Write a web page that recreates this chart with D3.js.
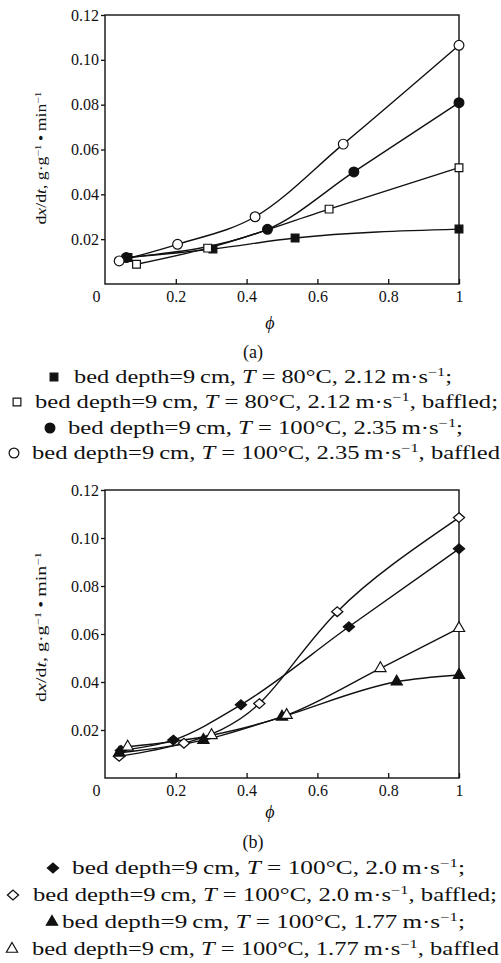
<!DOCTYPE html>
<html lang="en">
<head>
<meta charset="UTF-8">
<title>Drying rate vs phi</title>
<script src="https://d3js.org/d3.v7.min.js"></script>
<style>
  body { margin: 0; background: #fff; }
  svg { display: block; }
  text { font-family: "Liberation Serif", "DejaVu Serif", serif; fill: #111; }
</style>
</head>
<body>
<svg id="chart" width="501" height="963"></svg>
<script>
// ---- data ----
const xTicks = [0, 0.2, 0.4, 0.6, 0.8, 1];
const yTicks = [0.02, 0.04, 0.06, 0.08, 0.10, 0.12];

// panel (a)
const phiSqA = [0.065, 0.305, 0.537, 1.0];
const rateSqA = [0.0118, 0.0156, 0.0205, 0.0245];
const phiSqOpenA = [0.089, 0.29, 0.633, 1.0];
const rateSqOpenA = [0.0088, 0.016, 0.0334, 0.0519];
const phiDotA = [0.06, 0.459, 0.703, 1.0];
const rateDotA = [0.0118, 0.0244, 0.050, 0.0809];
const phiCircA = [0.04, 0.205, 0.424, 0.673, 1.0];
const rateCircA = [0.0103, 0.0177, 0.030, 0.0624, 0.1065];

// panel (b)
const phiDiaB = [0.045, 0.193, 0.384, 0.689, 1.0];
const rateDiaB = [0.0115, 0.0158, 0.0305, 0.063, 0.0955];
const phiDiaOpenB = [0.04, 0.223, 0.436, 0.656, 1.0];
const rateDiaOpenB = [0.009, 0.0145, 0.031, 0.0693, 0.1085];
const phiTriB = [0.04, 0.278, 0.50, 0.824, 1.0];
const rateTriB = [0.0105, 0.0158, 0.0255, 0.0401, 0.0429];
const phiTriOpenB = [0.064, 0.301, 0.513, 0.778, 1.0];
const rateTriOpenB = [0.013, 0.0178, 0.0262, 0.0457, 0.0624];

const legendA = [
  { sym: "square", fill: true,  speed: "2.12", temp: "80", baffled: false },
  { sym: "square", fill: false, speed: "2.12", temp: "80", baffled: true },
  { sym: "circle", fill: true,  speed: "2.35", temp: "100", baffled: false },
  { sym: "circle", fill: false, speed: "2.35", temp: "100", baffled: true }
];
const legendB = [
  { sym: "diamond",  fill: true,  speed: "2.0",  temp: "100", baffled: false },
  { sym: "diamond",  fill: false, speed: "2.0",  temp: "100", baffled: true },
  { sym: "triangle", fill: true,  speed: "1.77", temp: "100", baffled: false },
  { sym: "triangle", fill: false, speed: "1.77", temp: "100", baffled: true }
];

const zip = (xs, ys) => xs.map((x, i) => ({ x, y: ys[i] }));

const svg = d3.select("#chart");

// ---- symbol helper ----
function drawMarker(g, type, fill, cx, cy) {
  const sizes = { square: 60, circle: 75, diamond: 60, triangle: 55 };
  const types = { square: d3.symbolSquare, circle: d3.symbolCircle,
                  diamond: d3.symbolDiamond2, triangle: d3.symbolTriangle };
  g.append("path")
    .attr("d", d3.symbol().type(types[type]).size(sizes[type])())
    .attr("transform", `translate(${cx},${cy})` + (type === "diamond" ? " scale(1.15,1)" : ""))
    .attr("fill", fill ? "#111" : "#fff")
    .attr("stroke", "#111")
    .attr("stroke-width", 1.2);
}

// ---- one panel ----
function drawPanel(box, series, label, legend) {
  const x = d3.scaleLinear().domain([0, 1]).range([box.left, box.right]);
  const y = d3.scaleLinear().domain([0, 0.12]).range([box.bottom, box.top]);
  const g = svg.append("g");

  // frame
  g.append("rect")
    .attr("x", box.left).attr("y", box.top)
    .attr("width", box.right - box.left).attr("height", box.bottom - box.top)
    .attr("fill", "none").attr("stroke", "#111").attr("stroke-width", 1.4);

  // y axis
  const ya = g.append("g")
    .attr("transform", `translate(${box.left},0)`)
    .call(d3.axisLeft(y).tickValues(yTicks).tickSize(4).tickSizeOuter(0)
      .tickFormat(d3.format(".2f")));
  ya.select(".domain").remove();
  ya.selectAll("line").attr("stroke", "#111").attr("stroke-width", 1.3);
  ya.selectAll("text").attr("font-size", 16).attr("x", -6)
    .style("font-family", "'Liberation Serif', serif");

  // x axis, ticks pointing inwards
  const xa = g.append("g")
    .attr("transform", `translate(0,${box.bottom})`)
    .call(d3.axisBottom(x).tickValues(xTicks).tickSize(-5).tickSizeOuter(0)
      .tickFormat(d => d === 0 ? "0" : d === 1 ? "1" : d3.format(".1f")(d)));
  xa.select(".domain").remove();
  xa.selectAll("line").attr("stroke", "#111").attr("stroke-width", 1.3);
  xa.selectAll("text").attr("font-size", 16).attr("y", 7)
    .style("font-family", "'Liberation Serif', serif");
  xa.selectAll(".tick").filter(d => d === 0).select("text").attr("x", -9);
  xa.selectAll(".tick").filter(d => d === 0).select("line").remove();

  // y label
  const yl = g.append("text")
    .attr("transform", `translate(${box.ylabX},${box.ylabY}) rotate(-90)`)
    .attr("text-anchor", "middle")
    .attr("font-size", 14)
    .attr("textLength", box.ylabLen)
    .attr("lengthAdjust", "spacingAndGlyphs");
  yl.append("tspan").text("d");
  yl.append("tspan").attr("font-style", "italic").text("x");
  yl.append("tspan").text("/d");
  yl.append("tspan").attr("font-style", "italic").text("t");
  yl.append("tspan").text(", g\u00b7g");
  yl.append("tspan").attr("font-size", 9).attr("baseline-shift", "super").text("\u22121");
  yl.append("tspan").text("\u2009\u2022\u2009min");
  yl.append("tspan").attr("font-size", 9).attr("baseline-shift", "super").text("\u22121");

  // x label and panel tag
  g.append("text").attr("x", 270).attr("y", box.phiY)
    .attr("text-anchor", "middle").attr("font-size", 18).attr("font-style", "italic")
    .text("\u03d5");
  g.append("text").attr("x", 253).attr("y", box.tagY)
    .attr("text-anchor", "middle").attr("font-size", 18).text(label);

  // curves and markers
  series.forEach(s => {
    const line = d3.line().x(d => x(d.x)).y(d => y(d.y))
      .curve(s.natural ? d3.curveNatural : d3.curveMonotoneX);
    g.append("path").datum(s.pts)
      .attr("d", line).attr("fill", "none")
      .attr("stroke", "#111").attr("stroke-width", 1.4);
  });
  series.forEach(s => {
    s.pts.forEach(p => drawMarker(g, s.sym, s.fill, x(p.x), y(p.y)));
  });

  // legend
  legend.forEach((l, i) => {
    const pos = box.legend[i];
    drawMarker(g, l.sym, l.fill, pos.mx, pos.cy);
    const t = g.append("text")
      .attr("x", pos.tx).attr("y", pos.cy + 6)
      .attr("font-size", 18)
      .attr("textLength", pos.tw)
      .attr("lengthAdjust", "spacingAndGlyphs");
    t.append("tspan").text("bed depth=9\u2009cm, ");
    t.append("tspan").attr("font-style", "italic").text("T");
    t.append("tspan").text(` = ${l.temp}\u00b0C, ${l.speed}\u2009m\u00b7s`);
    t.append("tspan").attr("font-size", 12).attr("baseline-shift", "super").text("\u22121");
    t.append("tspan").text(l.baffled ? (i === 3 ? ", baffled" : ", baffled;") : ";");
  });
}

drawPanel(
  { left: 105, right: 459, top: 15, bottom: 284, ylabX: 46, ylabY: 158, ylabLen: 133,
    phiY: 329, tagY: 358,
    legend: [
      { mx: 54, cy: 377, tx: 74, tw: 378 },
      { mx: 17, cy: 402, tx: 35, tw: 463 },
      { mx: 50, cy: 428, tx: 68, tw: 395 },
      { mx: 14, cy: 453, tx: 32, tw: 468 }
    ] },
  [
    { sym: "square", fill: true,  pts: zip(phiSqA, rateSqA) },
    { sym: "square", fill: false, pts: zip(phiSqOpenA, rateSqOpenA) },
    { sym: "circle", fill: true,  pts: zip(phiDotA, rateDotA) },
    { sym: "circle", fill: false, pts: zip(phiCircA, rateCircA) }
  ],
  "(a)", legendA);

drawPanel(
  { left: 105, right: 459, top: 490, bottom: 778, ylabX: 46, ylabY: 627, ylabLen: 150,
    phiY: 818, tagY: 848,
    legend: [
      { mx: 53, cy: 868, tx: 72, tw: 393 },
      { mx: 13, cy: 895, tx: 33, tw: 464 },
      { mx: 52, cy: 922, tx: 62, tw: 403 },
      { mx: 12, cy: 949, tx: 32, tw: 467 }
    ] },
  [
    { sym: "diamond",  fill: true,  pts: zip(phiDiaB, rateDiaB) },
    { sym: "diamond",  fill: false, pts: zip(phiDiaOpenB, rateDiaOpenB), natural: true },
    { sym: "triangle", fill: true,  pts: zip(phiTriB, rateTriB) },
    { sym: "triangle", fill: false, pts: zip(phiTriOpenB, rateTriOpenB) }
  ],
  "(b)", legendB);
</script>
</body>
</html>
